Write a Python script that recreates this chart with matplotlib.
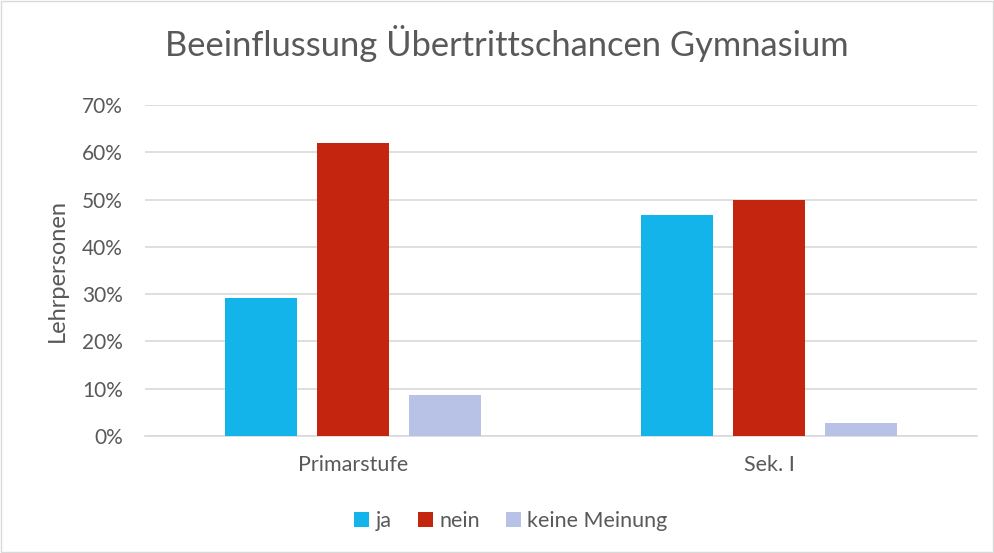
import matplotlib.pyplot as plt
import numpy as np
from matplotlib.ticker import PercentFormatter

plt.rcParams['font.family'] = ['Lato', 'DejaVu Sans']

categories = ['Primarstufe', 'Sek. I']
series = ['ja', 'nein', 'keine Meinung']
ja = [29.2, 46.7]
nein = [61.9, 50.0]
keine = [8.7, 2.8]
colors = ['#13b4e9', '#c3250e', '#b8c1e6']

fig = plt.figure(figsize=(9.94, 5.53), dpi=100)
ax = fig.add_axes([0.146, 0.2116, 0.837, 0.5986])

x = np.arange(len(categories))
w = 0.174
off = 0.221
for i, (vals, name) in enumerate(zip([ja, nein, keine], series)):
    ax.bar(x + (i - 1) * off, vals, width=w, color=colors[i], label=name, zorder=3)

ax.set_xlim(-0.5, 1.5)
ax.set_ylim(0, 70)
ax.set_yticks(np.arange(0, 71, 10))
ax.yaxis.set_major_formatter(PercentFormatter(decimals=0))
ax.set_xticks(x)
ax.set_xticklabels(categories)
ax.grid(axis='y', color='#d9d9d9', linewidth=1.2, zorder=0)
for s in ['top', 'right', 'left']:
    ax.spines[s].set_visible(False)
ax.spines['bottom'].set_color('#d9d9d9')
ax.spines['bottom'].set_linewidth(1.2)
ax.tick_params(axis='y', length=0, labelsize=15, colors='#595959', pad=16)
ax.tick_params(axis='x', length=0, labelsize=15.5, colors='#595959', pad=14)
ax.set_ylabel('Lehrpersonen', fontsize=17, color='#595959', labelpad=10)

fig.suptitle('Beeinflussung Übertrittschancen Gymnasium', fontsize=24.8,
             color='#595959', x=0.51, y=0.955)
fig.legend(loc='lower center', bbox_to_anchor=(0.514, 0.005), ncol=3, frameon=False,
           fontsize=15.5, labelcolor='#595959', handlelength=0.7, handleheight=0.7,
           handletextpad=0.3, columnspacing=1.2)

fig.patches.append(plt.Rectangle((0.001, 0.001), 0.998, 0.997, transform=fig.transFigure,
                                 fill=False, edgecolor='#d9d9d9', linewidth=1))
fig.savefig('out.png', dpi=100)
